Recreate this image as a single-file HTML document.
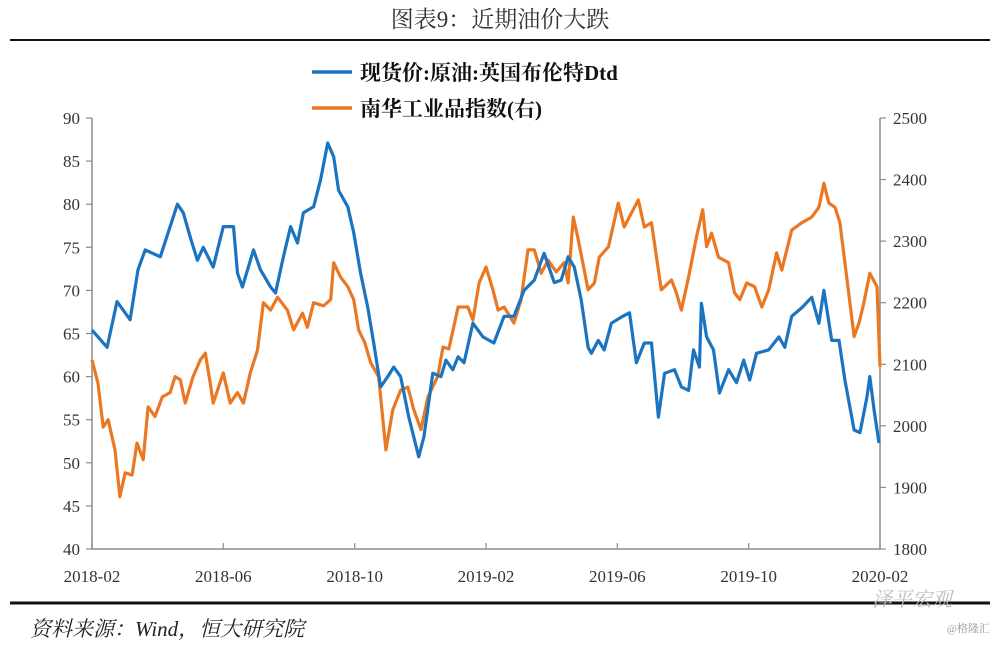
<!DOCTYPE html>
<html><head><meta charset="utf-8">
<style>
html,body{margin:0;padding:0;background:#fff;}
body{width:1000px;height:644px;overflow:hidden;position:relative;font-family:"Liberation Serif","Noto Serif CJK SC",serif;}
svg text{font-family:"Liberation Serif","Noto Serif CJK SC",serif;}
</style></head>
<body>
<svg id="chart" width="1000" height="644" viewBox="0 0 1000 644" xmlns="http://www.w3.org/2000/svg">
  <text x="500" y="27" text-anchor="middle" font-size="23" fill="#333">图表9：近期油价大跌</text>
  <line x1="10" y1="40" x2="990" y2="40" stroke="#111" stroke-width="2"/>
  <g>
    <line x1="312" y1="72" x2="352" y2="72" stroke="#1a74c0" stroke-width="3.5"/>
    <text x="360" y="80" font-size="21" font-weight="bold" fill="#111">现货价:原油:英国布伦特Dtd</text>
    <line x1="312" y1="108" x2="352" y2="108" stroke="#ea7823" stroke-width="3.5"/>
    <text x="360" y="116" font-size="21" font-weight="bold" fill="#111">南华工业品指数(右)</text>
  </g>
  <g id="axes"></g>
  <g id="series"></g>
  <line x1="10" y1="603" x2="990" y2="603" stroke="#111" stroke-width="3"/>
  <text x="30" y="636" font-size="21" font-style="italic" fill="#222">资料来源：Wind，恒大研究院</text>
  <text x="872" y="606" font-size="20" fill="#bbb" font-style="italic">泽平宏观</text>
  <text x="990" y="632" font-size="11" fill="#999" text-anchor="end">@格隆汇</text>
</svg>
<script>
// months since 2018-02
const brentT = [0,.46,.76,1.16,1.40,1.62,2.08,2.60,2.78,2.99,3.21,3.39,3.69,4.00,4.31,4.43,4.58,4.92,5.13,5.44,5.59,5.83,6.05,6.26,6.44,6.75,6.96,7.18,7.36,7.51,7.79,7.97,8.18,8.40,8.58,8.79,9.01,9.19,9.40,9.65,9.95,10.11,10.38,10.63,10.78,10.99,11.15,11.33,11.60,11.91,12.24,12.55,12.85,13.16,13.47,13.77,14.08,14.29,14.50,14.69,14.90,15.11,15.21,15.42,15.60,15.82,16.12,16.37,16.58,16.82,17.04,17.25,17.44,17.74,17.95,18.17,18.32,18.50,18.56,18.72,18.93,19.11,19.39,19.63,19.85,20.03,20.24,20.61,20.92,21.10,21.31,21.62,21.92,22.14,22.29,22.53,22.75,22.93,23.21,23.39,23.60,23.69,23.82,23.97];
const brentV = [65.4,63.4,68.7,66.6,72.4,74.7,73.9,80.0,79.0,76.2,73.5,75.0,72.7,77.4,77.4,72.0,70.4,74.7,72.4,70.4,69.7,73.9,77.4,75.5,79.0,79.7,82.8,87.1,85.5,81.6,79.7,76.7,72.0,68.0,63.9,58.8,60.0,61.1,60.0,55.3,50.7,53.0,60.4,60.0,61.9,60.8,62.3,61.6,66.2,64.6,63.9,67.0,67.0,70.0,71.2,74.3,70.9,71.2,73.9,72.7,68.9,63.4,62.7,64.2,63.1,66.2,66.9,67.4,61.6,63.9,63.9,55.3,60.4,60.8,58.8,58.4,63.1,61.1,68.5,64.6,63.1,58.1,60.8,59.3,61.9,59.6,62.7,63.1,64.6,63.4,67.0,68.0,69.2,66.2,70.0,64.2,64.2,59.6,53.8,53.5,57.6,60.0,56.1,52.3];
const nanhuaT = [0,.18,.34,.49,.70,.85,1.01,1.22,1.37,1.56,1.71,1.92,2.14,2.38,2.53,2.69,2.84,3.08,3.30,3.45,3.60,3.69,4.00,4.21,4.43,4.61,4.82,5.04,5.22,5.44,5.65,5.95,6.14,6.41,6.56,6.75,7.05,7.27,7.36,7.57,7.79,7.97,8.12,8.31,8.49,8.73,8.95,9.16,9.40,9.62,9.80,10.02,10.23,10.53,10.69,10.87,11.15,11.45,11.60,11.79,12.00,12.21,12.37,12.55,12.85,13.07,13.28,13.47,13.68,13.89,14.14,14.38,14.50,14.66,14.81,15.11,15.30,15.45,15.73,16.03,16.21,16.43,16.64,16.82,17.04,17.25,17.34,17.65,17.80,17.95,18.17,18.41,18.60,18.72,18.87,19.08,19.39,19.57,19.73,19.94,20.18,20.40,20.61,20.85,21.01,21.31,21.62,21.92,22.14,22.29,22.44,22.63,22.78,22.93,23.21,23.36,23.51,23.69,23.91,24.0];
const nanhuaV = [2107,2070,1998,2010,1961,1885,1924,1920,1972,1945,2031,2015,2047,2054,2080,2075,2037,2080,2107,2118,2070,2037,2086,2037,2054,2037,2086,2123,2200,2188,2209,2188,2156,2183,2160,2200,2195,2205,2265,2242,2226,2205,2156,2135,2102,2080,1961,2026,2058,2063,2026,1994,2047,2080,2128,2125,2193,2193,2172,2232,2258,2221,2188,2193,2167,2205,2286,2286,2248,2269,2250,2265,2232,2339,2302,2221,2232,2274,2291,2362,2323,2346,2367,2323,2330,2253,2221,2237,2216,2188,2242,2307,2351,2291,2313,2274,2265,2216,2205,2232,2226,2193,2221,2281,2253,2318,2330,2339,2355,2394,2362,2355,2330,2265,2145,2167,2200,2248,2226,2096];
const leftTicks = [40,45,50,55,60,65,70,75,80,85,90];
const rightTicks = [1800,1900,2000,2100,2200,2300,2400,2500];
const xTickLabels = ["2018-02","2018-06","2018-10","2019-02","2019-06","2019-10","2020-02"];
const xTickMonths = [0,4,8,12,16,20,24];

const X0=92,X1=880,Y0=549,Y1=118;
const xs = t => X0 + (X1-X0)*t/24;
const yl = v => Y0 - (Y0-Y1)*(v-40)/50;
const yr = v => Y0 - (Y0-Y1)*(v-1800)/700;
const NS="http://www.w3.org/2000/svg";
const axes=document.getElementById('axes'), series=document.getElementById('series');
function mk(tag, attrs, parent){const e=document.createElementNS(NS,tag);for(const k in attrs)e.setAttribute(k,attrs[k]);parent.appendChild(e);return e;}
const ax='#8c8c8c';
let e;
e=mk('line',{x1:X0,y1:Y1,x2:X0,y2:Y0,stroke:ax,'stroke-width':1.5},axes);


e=mk('line',{x1:X1,y1:Y1,x2:X1,y2:Y0,stroke:ax,'stroke-width':1.5},axes);


e=mk('line',{x1:X0,y1:Y0,x2:X1,y2:Y0,stroke:ax,'stroke-width':1.5},axes);


leftTicks.forEach(v=>{
  mk('line',{x1:X0-6,y1:yl(v),x2:X0,y2:yl(v),stroke:ax,'stroke-width':1.2},axes);
  const t=mk('text',{x:X0-12,y:yl(v)+6,'text-anchor':'end','font-size':17,fill:'#333'},axes);
  t.textContent=v;
  
  
});
rightTicks.forEach(v=>{
  mk('line',{x1:X1,y1:yr(v),x2:X1+6,y2:yr(v),stroke:ax,'stroke-width':1.2},axes);
  const t=mk('text',{x:X1+13,y:yr(v)+6,'font-size':17,fill:'#333'},axes);
  t.textContent=v;
  
  
});
xTickMonths.forEach((m,i)=>{
  mk('line',{x1:xs(m),y1:Y0-6,x2:xs(m),y2:Y0,stroke:ax,'stroke-width':1.2},axes);
  const t=mk('text',{x:xs(m),y:582,'text-anchor':'middle','font-size':17,fill:'#333'},axes);
  t.textContent=xTickLabels[i];
  
  
});
function path(T,V,yf){return T.map((t,i)=>(i?'L':'M')+xs(t).toFixed(1)+','+yf(V[i]).toFixed(1)).join('');}
const pb=mk('path',{d:path(brentT,brentV,yl),fill:'none',stroke:'#1a74c0','stroke-width':3.2,'stroke-linejoin':'round'},series);


const po=mk('path',{d:path(nanhuaT,nanhuaV,yr),fill:'none',stroke:'#ea7823','stroke-width':3.2,'stroke-linejoin':'round'},series);


series.insertBefore(po,pb);
</script>
</body></html>
